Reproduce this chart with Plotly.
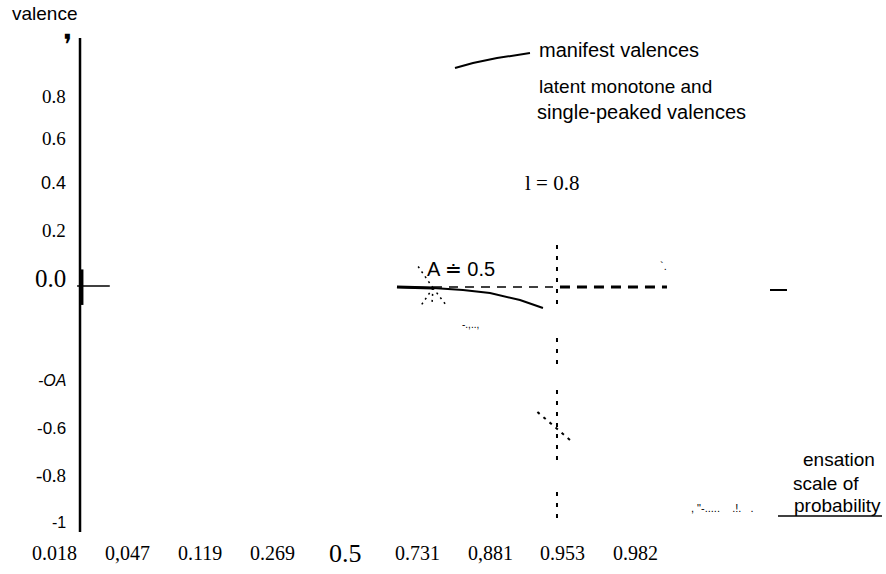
import plotly.graph_objects as go

# ---------------- data ----------------
x_tick_pos = [-4, -3, -2, -1, 0, 1, 2, 3, 4]
x_tick_labels = ["0.018", "0,047", "0.119", "0.269", "0.5", "0.731", "0,881", "0.953", "0.982"]
y_tick_vals = [0.8, 0.6, 0.4, 0.2, 0.0, -0.4, -0.6, -0.8, -1.0]
y_tick_labels = ["0.8", "0.6", "0.4", "0.2", "0.0", "-OA", "-0.6", "-0.8", "-1"]

# manifest valence curve (logit scale, valence)
manifest_x = [0.716, 1.212, 1.625, 1.997, 2.410, 2.727]
manifest_y = [-0.004, -0.008, -0.017, -0.030, -0.059, -0.093]

# legend sample of the manifest curve
legend_x = [1.515, 1.763, 2.094, 2.548]
legend_y = [0.921, 0.942, 0.963, 0.984]

# latent valences (dashed)
latent_thin_x = [1.212, 2.865]
latent_thick_x = [2.961, 4.435]
latent_level = -0.004

# lambda = 0.8 marker line
lambda_x = 2.92
lambda_segments = [(0.173, -0.101), (-0.220, -0.338), (-0.439, -0.760), (-0.870, -1.005)]

# axis line and small marks
axis_x = -3.65
axis_span = [1.048, -1.039]
zero_tick_x = [-3.69, -3.24]
right_mark_x = [5.854, 6.088]
right_mark_y = -0.017
sparkle_center = (1.212, -0.008)
sparkle_rays = [(1.033, -0.089), (1.198, -0.076), (1.391, -0.080), (0.992, 0.089)]
diag_x = [2.65, 3.13]
diag_y = [-0.532, -0.659]
underline_x = [5.964, 7.397]
underline_y = -0.972

# ---------------- figure ----------------
W, H = 886, 574
SERIF = "Liberation Serif"
SANS = "Liberation Sans"

fig = go.Figure()

def line(xs, ys, width=2, dash="solid", color="black"):
    fig.add_trace(go.Scatter(x=xs, y=ys, mode="lines",
                             line=dict(color=color, width=width, dash=dash),
                             hoverinfo="skip", showlegend=False))

# vertical axis
line([axis_x, axis_x], axis_span, width=2.5)
line([axis_x + 0.03, axis_x + 0.03], [0.07, -0.08], width=2.5)
line(zero_tick_x, [0, 0], width=1.5)

# manifest curve
line(manifest_x, manifest_y, width=2)
line(manifest_x[:2], manifest_y[:2], width=3)
line(legend_x, legend_y, width=2)

# latent dashed line
line(latent_thin_x, [latent_level] * 2, width=1.5, dash="9px,7px")
line(latent_thick_x, [latent_level] * 2, width=3, dash="10px,7px")

# lambda vertical dashed
for a, b in lambda_segments:
    line([lambda_x, lambda_x], [a, b], width=2, dash="4px,7px")

# sparkle rays
for rx, ry in sparkle_rays:
    line([sparkle_center[0], rx], [sparkle_center[1], ry], width=1.5, dash="2px,4px")

line(diag_x, diag_y, width=2, dash="3px,5px")
line(right_mark_x, [right_mark_y] * 2, width=2)
line(underline_x, [underline_y] * 2, width=1.5)

ann = []

def P(px, py):
    return px / W, 1 - py / H

# x tick labels
x_fonts = [20] * 9
x_fonts[4] = 26
for k, t, fs in zip(x_tick_pos, x_tick_labels, x_fonts):
    ann.append(dict(x=k, xref="x", y=P(0, 553)[1], yref="paper", text=t,
                    showarrow=False, font=dict(family=SERIF, size=fs, color="black"),
                    xanchor="center", yanchor="middle"))

# y tick labels
y_fonts = [SERIF, SERIF, SANS, SERIF, SERIF, SANS, SANS, SERIF, SANS]
y_sizes = [19, 19, 18, 19, 25, 16, 17, 19, 16]
y_shift = [0, 5, 8, 8, 8, 0, 0, 0, 0]
for v, t, f, s, sh in zip(y_tick_vals, y_tick_labels, y_fonts, y_sizes, y_shift):
    txt = "<i>" + t + "</i>" if t == "-OA" else t
    ann.append(dict(x=P(68, 0)[0], xref="paper", y=v, yref="y", yshift=sh, text=txt,
                    showarrow=False, font=dict(family=f, size=s, color="black"),
                    xanchor="right", yanchor="middle"))

def text(px, py, t, size=17, family=SANS, anchor="left"):
    x, y = P(px, py)
    ann.append(dict(x=x, y=y, xref="paper", yref="paper", text=t, showarrow=False,
                    font=dict(family=family, size=size, color="black"),
                    xanchor=anchor, yanchor="middle"))

text(45, 13, "valence", 19, anchor="center")
text(67, 44, "❜", 28, family="DejaVu Sans", anchor="center")
text(537, 50, "manifest valences", 20)
text(537, 87, "latent monotone and", 19)
text(535, 112, "single-peaked valences", 20)
text(523, 183, "l = 0.8", 21, family=SERIF)
text(461, 269, "A ≐ 0.5", 20, anchor="center")
text(877, 459, "ensation", 19, anchor="right")
text(861, 483, "scale of", 19, anchor="right")
text(883, 505, "probability", 19, anchor="right")
text(722, 508, ', "-.....    .!.   .', 11, anchor="center")
text(470, 324, "-.,..,", 10, anchor="center")
text(663, 266, "`.", 11, anchor="center")

x0 = -345 / 72.6
x1 = (W - 345) / 72.6
y0 = -(H - 286) / 236.7
y1 = 286 / 236.7

fig.update_layout(
    width=W, height=H,
    margin=dict(l=0, r=0, t=0, b=0),
    paper_bgcolor="white", plot_bgcolor="white",
    xaxis=dict(range=[x0, x1], visible=False, fixedrange=True),
    yaxis=dict(range=[y0, y1], visible=False, fixedrange=True),
    annotations=ann,
    showlegend=False,
)

fig.write_html("out.html", config={"displayModeBar": False},
               post_script="document.body.style.margin='0px';document.body.style.overflow='hidden';")
